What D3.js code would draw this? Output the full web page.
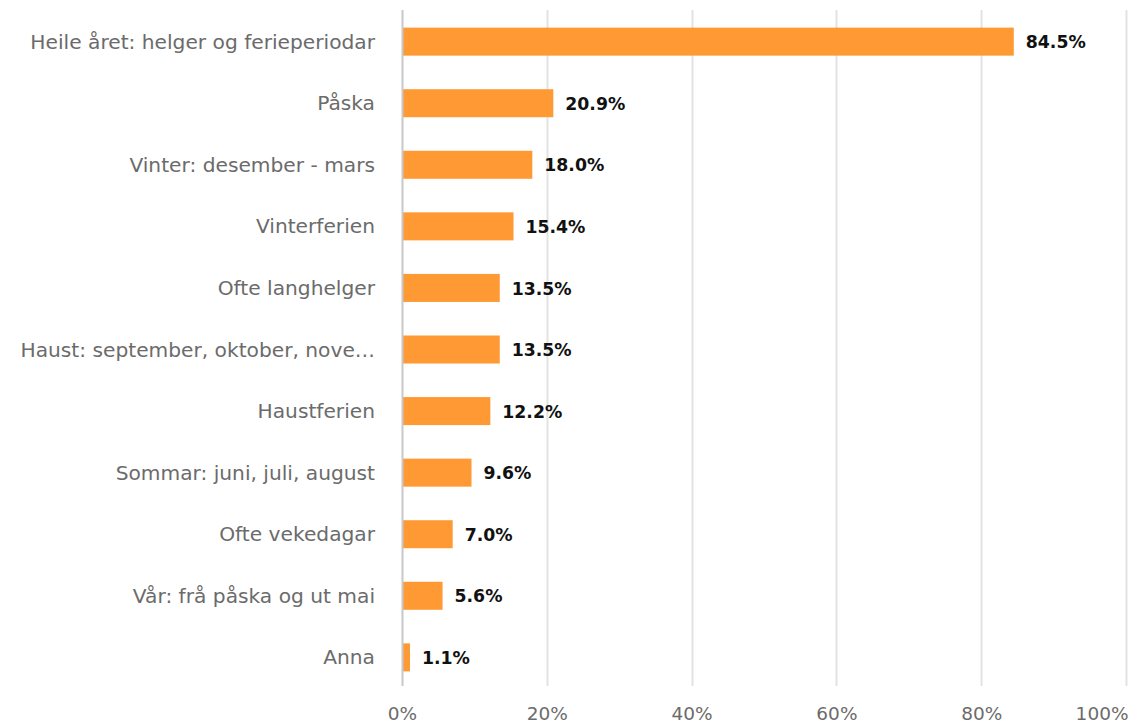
<!DOCTYPE html>
<html>
<head>
<meta charset="utf-8">
<script src="https://cdn.jsdelivr.net/npm/d3@7"></script>
<style>
  body { margin: 0; background: #fff; }
  svg { display: block; font-family: "DejaVu Sans", Verdana, sans-serif; }
</style>
</head>
<body>
<svg id="chart" width="1132" height="725"></svg>
<script>
var categories = [
  'Heile året: helger og ferieperiodar',
  'Påska',
  'Vinter: desember - mars',
  'Vinterferien',
  'Ofte langhelger',
  'Haust: september, oktober, nove…',
  'Haustferien',
  'Sommar: juni, juli, august',
  'Ofte vekedagar',
  'Vår: frå påska og ut mai',
  'Anna'
];
var values = [84.5, 20.9, 18.0, 15.4, 13.5, 13.5, 12.2, 9.6, 7.0, 5.6, 1.1];
var ticks = [0, 20, 40, 60, 80, 100];

(function() {
  var svg = d3.select('#chart');
  var plot = {left: 402, right: 1126, top: 11, bottom: 688};

  var x = d3.scaleLinear().domain([0, 100]).range([plot.left, plot.right]);
  var y = d3.scaleBand().domain(categories).range([plot.top, plot.bottom])
    .paddingInner(0.545).paddingOuter(0.27);

  // gridlines
  svg.append('g').selectAll('line')
    .data(ticks.slice(1))
    .enter().append('line')
    .attr('x1', function(d) { return Math.round(x(d)) + 0.5; })
    .attr('x2', function(d) { return Math.round(x(d)) + 0.5; })
    .attr('y1', 10).attr('y2', 686)
    .attr('stroke', '#e3e3e3').attr('stroke-width', 2);

  // bars
  svg.append('g').selectAll('rect')
    .data(values)
    .enter().append('rect')
    .attr('x', x(0))
    .attr('y', function(d, i) { return y(categories[i]); })
    .attr('width', function(d) { return x(d) - x(0); })
    .attr('height', y.bandwidth())
    .attr('fill', '#ff9933');

  // baseline
  svg.append('line')
    .attr('x1', plot.left + 0.5).attr('x2', plot.left + 0.5)
    .attr('y1', 10).attr('y2', 686)
    .attr('stroke', '#c8c8c8').attr('stroke-width', 2);

  // category labels
  svg.append('g').selectAll('text')
    .data(categories)
    .enter().append('text')
    .attr('x', 375)
    .attr('y', function(d) { return y(d) + y.bandwidth() / 2; })
    .attr('dy', '0.35em')
    .attr('text-anchor', 'end')
    .attr('font-size', 20.2)
    .attr('fill', '#6b6b6b')
    .text(function(d) { return d; });

  // value labels
  svg.append('g').selectAll('text')
    .data(values)
    .enter().append('text')
    .attr('x', function(d) { return x(d) + 12; })
    .attr('y', function(d, i) { return y(categories[i]) + y.bandwidth() / 2; })
    .attr('dy', '0.38em')
    .attr('font-size', 17.3)
    .attr('font-weight', 'bold')
    .attr('fill', '#111')
    .text(function(d) { return d.toFixed(1) + '%'; });

  // x axis labels
  var xAxis = d3.axisBottom(x)
    .tickValues(ticks)
    .tickSize(0)
    .tickFormat(function(d) { return d + '%'; });
  var gx = svg.append('g')
    .attr('transform', 'translate(0,704)')
    .call(xAxis);
  gx.select('.domain').remove();
  gx.selectAll('text')
    .attr('font-family', '"DejaVu Sans", Verdana, sans-serif')
    .attr('font-size', 18.5)
    .attr('fill', '#6b6b6b');
  // last label is pulled inside the frame
  gx.selectAll('.tick').filter(function(d) { return d === 100; })
    .select('text').attr('text-anchor', 'end').attr('x', 2);
})();
</script>
</body>
</html>
